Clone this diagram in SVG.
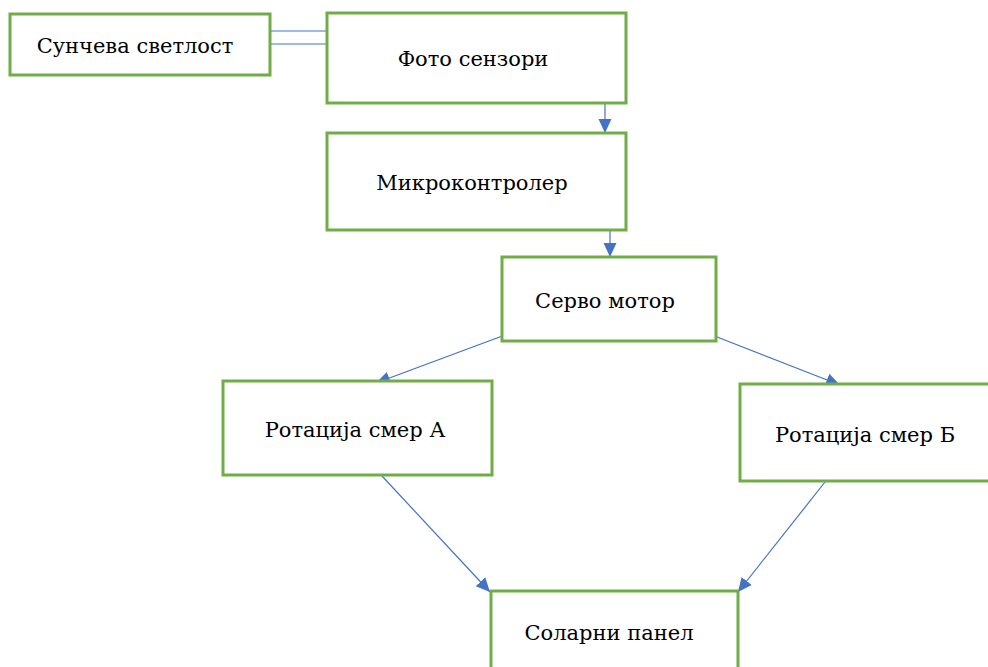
<svg xmlns="http://www.w3.org/2000/svg" width="988" height="667" viewBox="0 0 988 667">
<style>
.box{fill:#fff;stroke:#70AD47;stroke-width:3}
.lbl{font-family:'DejaVu Serif','Liberation Serif',serif;font-size:21px;fill:#000;text-anchor:middle}
.con{stroke:#4472C4;stroke-width:1.2;fill:none}
</style>
<defs>
<marker id="ah" markerUnits="userSpaceOnUse" markerWidth="16" markerHeight="16" viewBox="0 0 16 16" refX="14" refY="8" orient="auto">
<path d="M0,1.5 L14,8 L0,14.5 Z" fill="#4472C4"/>
</marker>
</defs>
<rect width="988" height="667" fill="#fff"/>
<g id="connectors">
<line class="con" x1="271" y1="31" x2="326" y2="31"/>
<line class="con" x1="271" y1="44" x2="326" y2="44"/>
<line class="con" x1="605" y1="104" x2="605" y2="133" marker-end="url(#ah)"/>
<line class="con" x1="610" y1="231" x2="610" y2="257" marker-end="url(#ah)"/>
<line class="con" x1="505" y1="335" x2="376" y2="383" marker-end="url(#ah)"/>
<line class="con" x1="712" y1="335" x2="840" y2="385" marker-end="url(#ah)"/>
<line class="con" x1="382" y1="476" x2="490" y2="592" marker-end="url(#ah)"/>
<line class="con" x1="825" y1="482" x2="738" y2="592" marker-end="url(#ah)"/>
</g>
<g id="n1"><rect class="box" x="10" y="14" width="260" height="61"/><text class="lbl" x="135" y="53">Сунчева светлост</text></g>
<g id="n2"><rect class="box" x="327" y="13" width="299" height="90"/><text class="lbl" x="473" y="66">Фото сензори</text></g>
<g id="n3"><rect class="box" x="327" y="133" width="299" height="97"/><text class="lbl" x="472" y="190">Микроконтролер</text></g>
<g id="n4"><rect class="box" x="502" y="257" width="214" height="84"/><text class="lbl" x="605" y="308">Серво мотор</text></g>
<g id="n5"><rect class="box" x="223" y="381" width="269" height="94"/><text class="lbl" x="355" y="437">Ротација смер А</text></g>
<g id="n6"><rect class="box" x="740" y="384" width="260" height="97"/><text class="lbl" x="865" y="442">Ротација смер Б</text></g>
<g id="n7"><rect class="box" x="491" y="591" width="247" height="90"/><text class="lbl" x="609" y="640">Соларни панел</text></g>
</svg>
